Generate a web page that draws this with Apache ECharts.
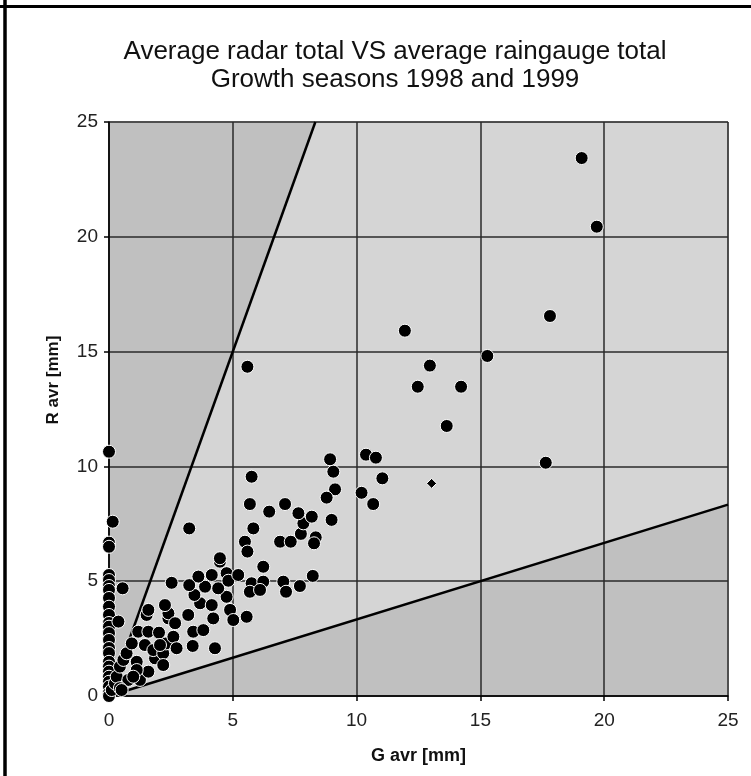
<!DOCTYPE html>
<html>
<head>
<meta charset="utf-8">
<title>Average radar total VS average raingauge total</title>
<script src="https://cdn.jsdelivr.net/npm/echarts@6/dist/echarts.min.js"></script>
<style>
  html, body { margin: 0; padding: 0; background: #fff; }
  #chart { width: 751px; height: 776px; }
</style>
</head>
<body>
<div id="chart"></div>
<script>
// gauge average (x) and radar average (y), mm
const gAvr = [
  0, 0, 0, 0, 0, 0, 0, 0, 0, 0, 0, 0, 0, 0, 0, 0, 0, 0, 0, 0, 0, 0, 0, 0,
  0.15, 0.55, 0.38, 0.11, 0.24, 0.31, 0.44, 0.58, 0.71, 0.92, 1.18, 1.59, 1.45, 1.52, 1.59,
  1.12, 0.78, 1.25, 1.59, 1.12, 0.98, 0.44, 0.51, 1.86, 1.79, 2.19, 2.19, 2.3, 2.6, 2.02,
  2.06, 2.4, 2.4, 2.67, 2.26, 2.73, 3.38, 3.4, 3.81, 4.28, 3.2, 3.68, 4.21, 4.15, 4.75,
  4.89, 5.02, 5.56, 4.41, 3.88, 3.45, 2.53, 3.24, 3.61, 4.15, 4.48, 4.75, 4.82, 5.22,
  4.48, 3.24, 5.76, 5.69, 6.23, 6.23, 6.1, 7.04, 7.15, 7.71, 8.23, 5.49, 5.59, 5.83,
  6.91, 7.34, 7.75, 7.85, 8.35, 8.28, 8.99, 5.69, 6.47, 7.11, 7.65, 8.19, 5.76, 8.93,
  9.06, 9.13, 8.79, 10.38, 10.78, 11.04, 10.2, 10.67, 5.59, 11.95, 12.96, 12.47, 14.22,
  13.64, 15.28, 17.64, 17.81, 19.09, 19.7
];
const rAvr = [
  10.64, 6.68, 6.5, 5.27, 5.05, 4.79, 4.62, 4.27, 3.89, 3.53, 3.18, 3.02, 2.74, 2.44, 2.09, 1.87, 1.49, 1.28, 1.06, 0.84, 0.62, 0.41, 0.13, 0,
  7.59, 4.69, 3.24, 0.26, 0.55, 0.84, 1.28, 1.57, 1.86, 2.29, 2.8, 2.8, 2.22, 3.53, 3.75,
  1.49, 0.7, 0.7, 1.06, 1.13, 0.84, 0.34, 0.26, 1.64, 2.0, 1.86, 1.35, 2.29, 2.58, 2.76,
  2.22, 3.38, 3.6, 3.17, 3.96, 2.08, 2.18, 2.8, 2.87, 2.08, 3.53, 4.04, 3.38, 3.96, 4.32,
  3.75, 3.31, 3.45, 4.69, 4.76, 4.4, 4.93, 4.83, 5.2, 5.27, 5.85, 5.35, 5.02, 5.27,
  6.0, 7.3, 4.91, 4.54, 5.63, 4.98, 4.62, 4.98, 4.54, 4.79, 5.23, 6.72, 6.29, 7.3,
  6.72, 6.72, 7.06, 7.52, 6.91, 6.65, 7.67, 8.36, 8.03, 8.36, 7.96, 7.81, 9.55, 10.31,
  9.77, 9.0, 8.64, 10.51, 10.38, 9.48, 8.85, 8.36, 14.34, 15.91, 14.39, 13.47, 13.47,
  11.76, 14.81, 10.16, 16.55, 23.43, 20.44
];
// one point drawn with a smaller marker
const smallG = [13.03];
const smallR = [9.26];

// reference lines R = 3 G and R = G / 3
const slopes = [3, 1 / 3];
const axisMax = 25;
const axisStep = 5;

const points = gAvr.map((g, i) => [g, rAvr[i]]);
const smallPoints = smallG.map((g, i) => [g, smallR[i]]);

// where each line leaves the square plot
const lineEnd = s => (s >= 1 ? [axisMax / s, axisMax] : [axisMax, axisMax * s]);
const refLines = slopes.map(s => [[0, 0], lineEnd(s)]);
// darker wedges outside the two lines
const wedges = [
  [[0, 0], [0, axisMax], lineEnd(slopes[0])],
  [[0, 0], [axisMax, 0], lineEnd(slopes[1])]
];

const chart = echarts.init(document.getElementById('chart'));
const font = '"Liberation Sans", Arial, sans-serif';

const axisCommon = {
  type: 'value',
  min: 0,
  max: axisMax,
  interval: axisStep,
  z: 3,
  axisLine: { show: true, lineStyle: { color: '#000', width: 1.5 } },
  axisTick: { show: true, length: 5, lineStyle: { color: '#000', width: 1.5 } },
  splitLine: { show: true, lineStyle: { color: '#2a2a2a', width: 1.5 } },
  axisLabel: { color: '#222', fontSize: 19, fontFamily: font }
};

chart.setOption({
  animation: false,
  backgroundColor: '#fff',
  title: {
    text: 'Average radar total VS average raingauge total\nGrowth seasons 1998 and 1999',
    left: 390,
    top: 33,
    textAlign: 'center',
    textStyle: {
      fontFamily: font,
      fontSize: 26,
      fontWeight: 'normal',
      lineHeight: 28,
      color: '#111'
    }
  },
  grid: {
    left: 109,
    right: 23,
    top: 122,
    bottom: 80,
    show: true,
    backgroundColor: '#d5d5d5',
    borderColor: '#8a8a8a',
    borderWidth: 1
  },
  xAxis: Object.assign({}, axisCommon, {
    name: 'G avr [mm]',
    nameLocation: 'middle',
    nameGap: 51,
    nameTextStyle: { fontFamily: font, fontSize: 18, fontWeight: 'bold', color: '#111' },
    axisLabel: Object.assign({}, axisCommon.axisLabel, { margin: 15 })
  }),
  yAxis: Object.assign({}, axisCommon, {
    axisLabel: Object.assign({}, axisCommon.axisLabel, { margin: 11 })
  }),
  graphic: [
    { type: 'line', shape: { x1: 5, y1: 0, x2: 5, y2: 776 }, style: { stroke: '#000', lineWidth: 3.5 } },
    { type: 'line', shape: { x1: 0, y1: 6.5, x2: 751, y2: 6.5 }, style: { stroke: '#000', lineWidth: 3 } },
    {
      type: 'text',
      x: 53,
      y: 380,
      rotation: Math.PI / 2,
      style: {
        text: 'R avr [mm]',
        fill: '#111',
        font: 'bold 17px "Liberation Sans", Arial, sans-serif',
        align: 'center',
        verticalAlign: 'middle'
      }
    }
  ],
  series: [
    {
      type: 'custom',
      silent: true,
      z: 1,
      data: wedges.map((w, i) => [i, 0]),
      renderItem: (params, api) => ({
        type: 'polygon',
        shape: { points: wedges[params.dataIndex].map(p => api.coord(p)) },
        style: { fill: '#c0c0c0' }
      })
    },
    ...refLines.map(l => ({
      type: 'line',
      data: l,
      symbol: 'none',
      silent: true,
      z: 4,
      lineStyle: { color: '#000', width: 2.5 }
    })),
    {
      type: 'scatter',
      data: points,
      symbol: 'circle',
      symbolSize: 13,
      z: 5,
      itemStyle: { color: '#000', borderColor: '#fff', borderWidth: 1, opacity: 1 }
    },
    {
      type: 'scatter',
      data: smallPoints,
      symbol: 'diamond',
      symbolSize: 10,
      z: 5,
      itemStyle: { color: '#000', borderColor: '#fff', borderWidth: 1, opacity: 1 }
    }
  ]
});
</script>
</body>
</html>
